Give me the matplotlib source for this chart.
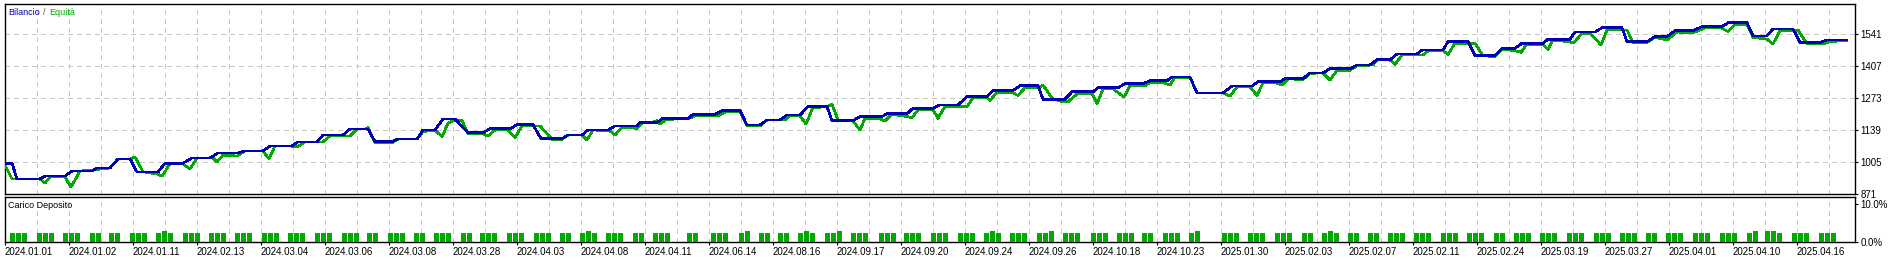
import matplotlib
matplotlib.use("Agg")
import matplotlib.pyplot as plt

plt.rcParams['font.family'] = ['Liberation Sans', 'DejaVu Sans']

# ---------------- data ----------------
bal_x = [0, 7, 12, 35, 40, 60, 67, 87, 92, 105, 113, 125, 132, 153, 160, 178, 187, 205, 213, 233,
         240, 258, 265, 287, 293, 312, 318, 338, 345, 363, 370, 387, 392, 412, 418, 430, 438, 450, 463, 478,
         485, 505, 512, 528, 536, 557, 563, 577, 583, 603, 610, 632, 635, 652, 657, 683, 688, 710, 717, 735,
         742, 755, 762, 775, 782, 795, 803, 822, 827, 848, 855, 877, 882, 902, 908, 928, 935, 953, 962, 982,
         988, 1008, 1015, 1033, 1038, 1060, 1067, 1088, 1093, 1113, 1120, 1138, 1145, 1162, 1167, 1185, 1192, 1218, 1227, 1247,
         1253, 1275, 1280, 1298, 1305, 1318, 1325, 1345, 1352, 1365, 1372, 1385, 1392, 1412, 1417, 1438, 1443, 1463, 1470, 1490,
         1497, 1510, 1517, 1538, 1543, 1565, 1570, 1590, 1597, 1617, 1622, 1642, 1650, 1662, 1670, 1688, 1697, 1717, 1723, 1742,
         1748, 1762, 1768, 1788, 1795, 1815, 1822, 1842]
bal_v = [1000, 1000, 934, 934, 946, 946, 967, 967, 980, 980, 1018, 1018, 963, 963, 1000, 1000, 1022, 1022, 1043, 1043,
         1051, 1051, 1072, 1072, 1089, 1089, 1118, 1118, 1143, 1143, 1090, 1090, 1101, 1101, 1139, 1139, 1185, 1185, 1128, 1128,
         1144, 1144, 1161, 1161, 1103, 1103, 1118, 1118, 1139, 1139, 1156, 1156, 1170, 1170, 1186, 1186, 1205, 1205, 1220, 1220,
         1160, 1160, 1181, 1181, 1202, 1202, 1237, 1237, 1178, 1178, 1195, 1195, 1207, 1207, 1230, 1230, 1244, 1244, 1278, 1278,
         1305, 1305, 1324, 1324, 1268, 1268, 1299, 1299, 1316, 1316, 1333, 1333, 1345, 1345, 1361, 1361, 1294, 1294, 1323, 1323,
         1341, 1341, 1354, 1354, 1378, 1378, 1396, 1396, 1411, 1411, 1433, 1433, 1457, 1457, 1474, 1474, 1509, 1509, 1450, 1450,
         1481, 1481, 1502, 1502, 1519, 1519, 1549, 1549, 1567, 1567, 1509, 1509, 1530, 1530, 1555, 1555, 1572, 1572, 1588, 1588,
         1533, 1533, 1562, 1562, 1505, 1505, 1516, 1516]

eq_x = [0, 7, 35, 40, 45, 60, 66, 75, 87, 105, 113, 125, 130, 138, 152, 157, 165, 178, 185, 192,
        208, 212, 218, 232, 240, 258, 264, 270, 285, 292, 300, 318, 325, 345, 352, 360, 363, 370, 387, 393,
        412, 418, 430, 437, 443, 448, 457, 463, 478, 483, 490, 503, 510, 517, 535, 547, 557, 563, 577, 582,
        588, 605, 610, 617, 632, 637, 645, 652, 655, 662, 683, 690, 713, 720, 735, 742, 755, 762, 780, 785,
        795, 801, 808, 822, 827, 833, 848, 855, 860, 875, 880, 887, 902, 907, 913, 928, 933, 940, 962, 968,
        982, 985, 992, 1007, 1013, 1020, 1033, 1038, 1047, 1058, 1063, 1073, 1087, 1092, 1098, 1108, 1112, 1119, 1125, 1140,
        1145, 1158, 1165, 1170, 1185, 1192, 1218, 1225, 1232, 1245, 1252, 1258, 1272, 1277, 1283, 1298, 1305, 1318, 1325, 1332,
        1345, 1352, 1368, 1372, 1385, 1390, 1397, 1418, 1423, 1438, 1443, 1450, 1470, 1478, 1490, 1497, 1510, 1516, 1522, 1538,
        1543, 1548, 1562, 1569, 1577, 1585, 1596, 1602, 1622, 1628, 1642, 1650, 1662, 1672, 1688, 1702, 1715, 1723, 1730, 1742,
        1748, 1762, 1768, 1775, 1788, 1793, 1802, 1818, 1825, 1842]
eq_v = [992, 934, 934, 917, 942, 942, 900, 967, 971, 980, 1018, 1018, 1026, 964, 955, 946, 997, 997, 976, 1022,
        1022, 1005, 1034, 1030, 1051, 1051, 1018, 1072, 1072, 1068, 1089, 1089, 1114, 1114, 1143, 1143, 1149, 1085, 1085, 1101,
        1101, 1132, 1139, 1111, 1167, 1178, 1178, 1125, 1122, 1114, 1139, 1139, 1107, 1156, 1156, 1100, 1100, 1118, 1118, 1097,
        1139, 1135, 1118, 1150, 1146, 1168, 1168, 1178, 1164, 1184, 1185, 1199, 1199, 1214, 1214, 1156, 1156, 1181, 1181, 1198,
        1198, 1164, 1234, 1235, 1247, 1181, 1177, 1139, 1188, 1185, 1177, 1205, 1195, 1190, 1223, 1223, 1188, 1237, 1237, 1274,
        1274, 1262, 1297, 1297, 1283, 1316, 1315, 1327, 1272, 1257, 1257, 1293, 1293, 1248, 1311, 1311, 1299, 1277, 1324, 1324,
        1337, 1337, 1327, 1360, 1360, 1294, 1294, 1281, 1320, 1320, 1283, 1337, 1335, 1327, 1353, 1350, 1376, 1378, 1348, 1389,
        1389, 1408, 1411, 1433, 1432, 1414, 1453, 1453, 1470, 1470, 1456, 1502, 1502, 1450, 1446, 1477, 1471, 1464, 1498, 1498,
        1477, 1516, 1509, 1505, 1544, 1544, 1495, 1558, 1558, 1505, 1505, 1527, 1516, 1549, 1546, 1569, 1569, 1551, 1582, 1582,
        1527, 1519, 1499, 1555, 1555, 1558, 1499, 1499, 1509, 1514]

# deposit load (%): groups of simultaneous positions
load_start = [5, 32, 58, 85, 104, 125, 151, 178, 204, 230, 257, 283, 310, 337, 362, 383, 409, 429, 456, 475,
              502, 529, 555, 575, 601, 628, 648, 682, 706, 734, 754, 773, 793, 820, 846, 874, 899, 926, 953, 979,
              1005, 1032, 1058, 1086, 1112, 1137, 1158, 1184, 1217, 1243, 1270, 1297, 1317, 1343, 1363, 1383, 1409, 1436, 1462, 1489,
              1509, 1535, 1562, 1589, 1615, 1641, 1661, 1688, 1715, 1742, 1760, 1787, 1814]
N, T = 2.4, 2.8
load_pct = [[N, N, N], [N, N, N], [N, N, N], [N, N], [N, N], [N, N, N], [N, T, N], [N, N, N], [N, N, N], [N, N, N],
            [N, N, N], [N, N, N], [N, N, N], [N, N, N], [N, N], [N, N, N], [N, N], [N, N, N], [N, N], [N, N, N],
            [N, N, N], [N, N, N], [N, N], [N, T, N], [N, N, N], [N, N], [N, N, N], [N, N], [N, N, N], [N, T],
            [N, N], [N, N], [N, T, N], [N, N, T], [N, N, N], [N, N, N], [N, N, N], [N, N, N], [N, N, N], [N, T, N],
            [N, N, N], [N, N, T], [N, N, N], [N, N, N], [N, N, N], [N, N], [N, N, N], [N, T], [N, N, N], [N, N, N],
            [N, N, N], [N, N], [N, T, N], [N, N], [N, N], [N, N, N], [N, N, N], [N, N, N], [N, N, N], [N, N],
            [N, N, N], [N, N, N], [N, N, N], [N, N, N], [N, N, N], [N, N], [N, N, N], [N, N, N], [N, N, N], [N, T],
            [T, T, N], [N, N, N], [N, N, N]]

x_labels = ['2024.01.01', '2024.01.02', '2024.01.11', '2024.02.13', '2024.03.04', '2024.03.06', '2024.03.08',
            '2024.03.28', '2024.04.03', '2024.04.08', '2024.04.11', '2024.06.14', '2024.08.16', '2024.09.17',
            '2024.09.20', '2024.09.24', '2024.09.26', '2024.10.18', '2024.10.23', '2025.01.30', '2025.02.03',
            '2025.02.07', '2025.02.11', '2025.02.24', '2025.03.19', '2025.03.27', '2025.04.01', '2025.04.10',
            '2025.04.16']
y_ticks = [871, 1005, 1139, 1273, 1407, 1541]

# ---------------- style ----------------
W, H = 1900, 259
BLUE = '#0000B4'
GREEN = '#00AA00'
GRID = '#C8C8C8'
FS = 7

fig = plt.figure(figsize=(W / 100, H / 100), dpi=100)
fig.patch.set_facecolor('white')

def px_axes(l, t, r, b):
    return fig.add_axes([l / W, 1 - b / H, (r - l) / W, (b - t) / H])

ax = px_axes(5, 4, 1855, 194)
ax2 = px_axes(5, 197, 1855, 242)

XMAX = 1850
label_step = 64
grid_step = 32

for a in (ax, ax2):
    a.set_xlim(0, XMAX)
    for s in a.spines.values():
        s.set_linewidth(1.0)
        s.set_color('black')
    for gx in range(grid_step, XMAX, grid_step):
        a.axvline(gx, color=GRID, lw=0.75, ls=(0, (4, 4)), zorder=0, antialiased=False)

ax.set_ylim(871, 1666.5)
for gy in y_ticks[1:]:
    ax.axhline(gy, color=GRID, lw=0.75, ls=(0, (4, 4)), zorder=0, antialiased=False)

ax.plot(eq_x, eq_v, color=GREEN, lw=1.2, zorder=3, antialiased=False)
ax.plot(bal_x, bal_v, color=BLUE, lw=1.2, zorder=4, antialiased=False)

ax.yaxis.tick_right()
ax.set_yticks(y_ticks)
ax.set_yticklabels([str(v) for v in y_ticks], fontsize=FS)
ax.tick_params(axis='y', length=2, width=0.8, pad=2)
ax.set_xticks([])

# deposit load bars
bar_pitch = 6
for st, vals in zip(load_start, load_pct):
    xs = [st + i * bar_pitch for i in range(len(vals))]
    ax2.bar(xs, vals, width=5, align='edge', color=GREEN, edgecolor='none', zorder=3, antialiased=False)
ax2.set_ylim(0, 11.7)
ax2.yaxis.tick_right()
ax2.set_yticks([0, 10])
ax2.set_yticklabels(['0.0%', '10.0%'], fontsize=FS)
ax2.tick_params(axis='y', length=2, width=0.8, pad=2)

ax2.set_xticks([i * label_step for i in range(len(x_labels))])
ax2.set_xticklabels(x_labels, fontsize=FS)
for lab in ax2.get_xticklabels():
    lab.set_ha('left')
ax2.tick_params(axis='x', length=2.5, width=0.8, pad=1)

# titles
TFS = 6.5
fig.text(8 / W, 1 - 12.5 / H, 'Bilancio', color=BLUE, fontsize=TFS, va='center', ha='left')
fig.text(43 / W, 1 - 12.5 / H, '/', color='#505050', fontsize=TFS, va='center', ha='left')
fig.text(49 / W, 1 - 12.5 / H, 'Equità', color=GREEN, fontsize=TFS, va='center', ha='left')
fig.text(8 / W, 1 - 205.5 / H, 'Carico Deposito', color='black', fontsize=TFS, va='center', ha='left')

fig.savefig('out.png', dpi=100, facecolor='white')
